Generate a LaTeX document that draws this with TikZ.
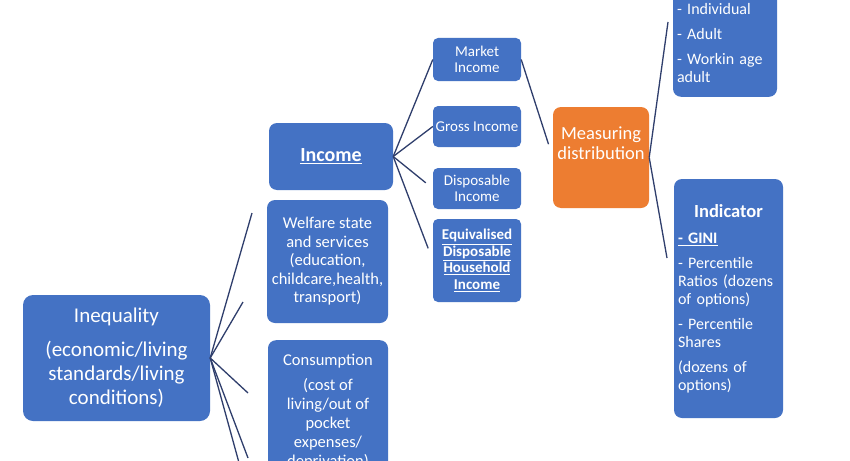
\documentclass[tikz,border=0pt]{standalone}
\usepackage{fontspec}
\setmainfont{Carlito}
\usepackage{tikz}
\usetikzlibrary{positioning}
\definecolor{boxblue}{RGB}{68,114,196}
\definecolor{boxorange}{RGB}{237,125,49}
\definecolor{linknavy}{RGB}{47,62,108}

\begin{document}
\begin{tikzpicture}[x=1pt, y=-1pt]
	\tikzstyle{box} = [rectangle, rounded corners=8pt, fill=boxblue, text=white, inner sep=0pt, align=center]
	\tikzstyle{small box} = [box, rounded corners=5pt, minimum width=88pt, font=\fontsize{15}{16.5}\selectfont]
	\tikzstyle{list box} = [box, align=left, inner xsep=4pt, font=\fontsize{16}{18}\selectfont]
	\tikzstyle{link} = [draw=linknavy, line width=1.3pt]
\useasboundingbox (0,0) rectangle (850,460);
\fill[white] (0,0) rectangle (850,460);
\clip (0,0) rectangle (850,460);
\node[box, minimum width=187pt, minimum height=126pt, rounded corners=10pt, font=\fontsize{21}{24}\selectfont] (ineq) at (116.5, 358) {Inequality\\[10pt](economic/living\\standards/living\\conditions)};
\node[box, minimum width=124pt, minimum height=67pt, font=\fontsize{20}{22}\selectfont\bfseries] (inc) at (331, 156.5) {\underline{Income}};
\node[box, minimum width=121pt, minimum height=123pt, font=\fontsize{16.5}{18.5}\selectfont] (welf) at (327.5, 261.5) {Welfare state\\and services\\(education,\\childcare,health,\\transport)};
\node[box, anchor=north, minimum width=120pt, inner ysep=14pt, font=\fontsize{16.5}{19}\selectfont] (cons) at (328, 340) {Consumption\\[6pt](cost of\\living/out of\\pocket\\expenses/\\deprivation)};
\node[small box, minimum height=43pt] (mkt) at (477, 59.5) {Market\\Income};
\node[small box, minimum height=41pt] (gross) at (477, 126.5) {Gross Income};
\node[small box, minimum height=41pt] (disp) at (477, 188.5) {Disposable\\Income};
\node[small box, minimum height=83pt, font=\fontsize{15}{16.5}\selectfont\bfseries] (equiv) at (477, 260.5) {\underline{Equivalised}\\\underline{Disposable}\\\underline{Household}\\\underline{Income}};
\node[box, fill=boxorange, minimum width=96pt, minimum height=101pt, font=\fontsize{18.5}{20}\selectfont] (meas) at (601, 157.5) {Measuring\\distribution\\[8pt]\mbox{}};
\node[list box, anchor=south, text width=96pt, inner ysep=14pt] (unit) at (725, 97) {- Individual\\[7pt]- Adult\\[7pt]- Workin age\\adult};
\node[list box, text width=101pt, minimum height=239pt] (indic) at (728.5, 298.5) {\hfill{\fontsize{18.5}{20}\selectfont\bfseries Indicator}\hfill\mbox{}\\[8pt]\textbf{\underline{- GINI}}\\[7pt]- Percentile\\Ratios (dozens\\of options)\\[7pt]- Percentile\\Shares\\[7pt](dozens of\\options)};
\coordinate (i1) at (252, 213);
\coordinate (i2) at (243, 302);
\coordinate (i3) at (248, 393);
\coordinate (i4) at (248, 458);
\coordinate (i5) at (241, 470);
\coordinate (m1) at (668, 22);
\coordinate (m2) at (667, 258);
	\path[link] (ineq.east) -- (i1);
	\path[link] (ineq.east) -- (i2);
	\path[link] (ineq.east) -- (i3);
	\path[link] (ineq.east) -- (i4);
	\path[link] (ineq.east) -- (i5);
	\path[link] (inc.east) -- (mkt.west);
	\path[link] (inc.east) -- (gross.west);
	\path[link, shorten >=9pt] (inc.east) -- (disp.west);
	\path[link, shorten >=13pt] (inc.east) -- (equiv.west);
	\path[link, shorten >=14pt] (mkt.east) -- (meas.west);
	\path[link] (meas.east) -- (m1);
	\path[link] (meas.east) -- (m2);
\end{tikzpicture}
\end{document}
